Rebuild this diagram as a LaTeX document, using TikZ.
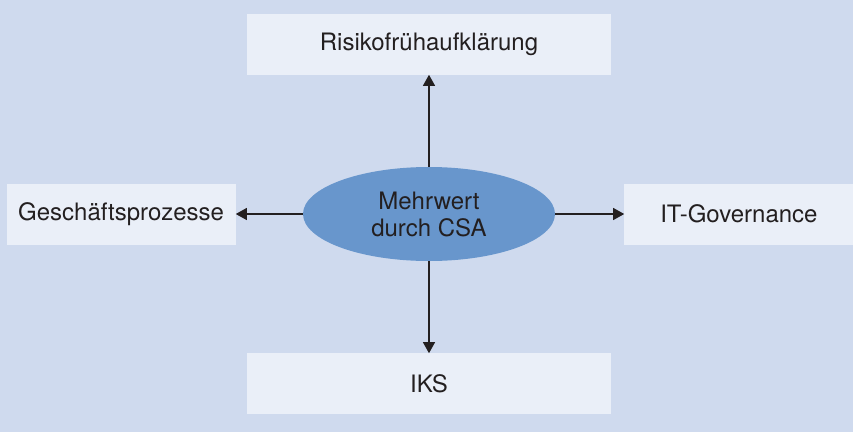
\documentclass[tikz,border=0pt]{standalone}
\usepackage{fontspec}
\setmainfont{TeX Gyre Heros}
\usetikzlibrary{arrows.meta,positioning,shapes.geometric}

\definecolor{bgblue}{HTML}{CFDAEE}
\definecolor{boxblue}{HTML}{EAEFF8}
\definecolor{ellblue}{HTML}{6896CC}
\definecolor{txtgray}{HTML}{231F20}

\begin{document}
\begin{tikzpicture}[
    x=1pt, y=1pt,
    topic/.style={rectangle, fill=boxblue, minimum height=61pt, inner sep=0pt, align=center, font=\fontsize{24}{27}\selectfont, text=txtgray},
    core/.style={ellipse, fill=ellblue, minimum width=252pt, minimum height=94pt, inner sep=0pt, align=center, font=\fontsize{24}{27}\selectfont, text=txtgray},
    link/.style={draw=txtgray, line width=1.1pt},
    >={Triangle[length=11pt,width=12pt]}
]
\fill[bgblue] (-429,214) rectangle (424,-218);
\useasboundingbox (-429,214) rectangle (424,-218);

\node[core] (ell) {Mehrwert\\durch CSA};
\node[topic, minimum width=363pt, above=92pt of ell] (risk) {Risikofrühaufklärung};
\node[topic, minimum width=363pt, below=92pt of ell] (iks) {IKS};
\node[topic, minimum width=229pt, left=67pt of ell] (proc) {Geschäftsprozesse};
\node[topic, minimum width=229pt, right=69pt of ell] (itg) {IT-Governance};

\draw[link,->] (ell) -- (risk);
\draw[link,->] (ell) -- (iks);
\draw[link,->] (ell) -- (proc);
\draw[link,->] (ell) -- (itg);
\end{tikzpicture}
\end{document}
